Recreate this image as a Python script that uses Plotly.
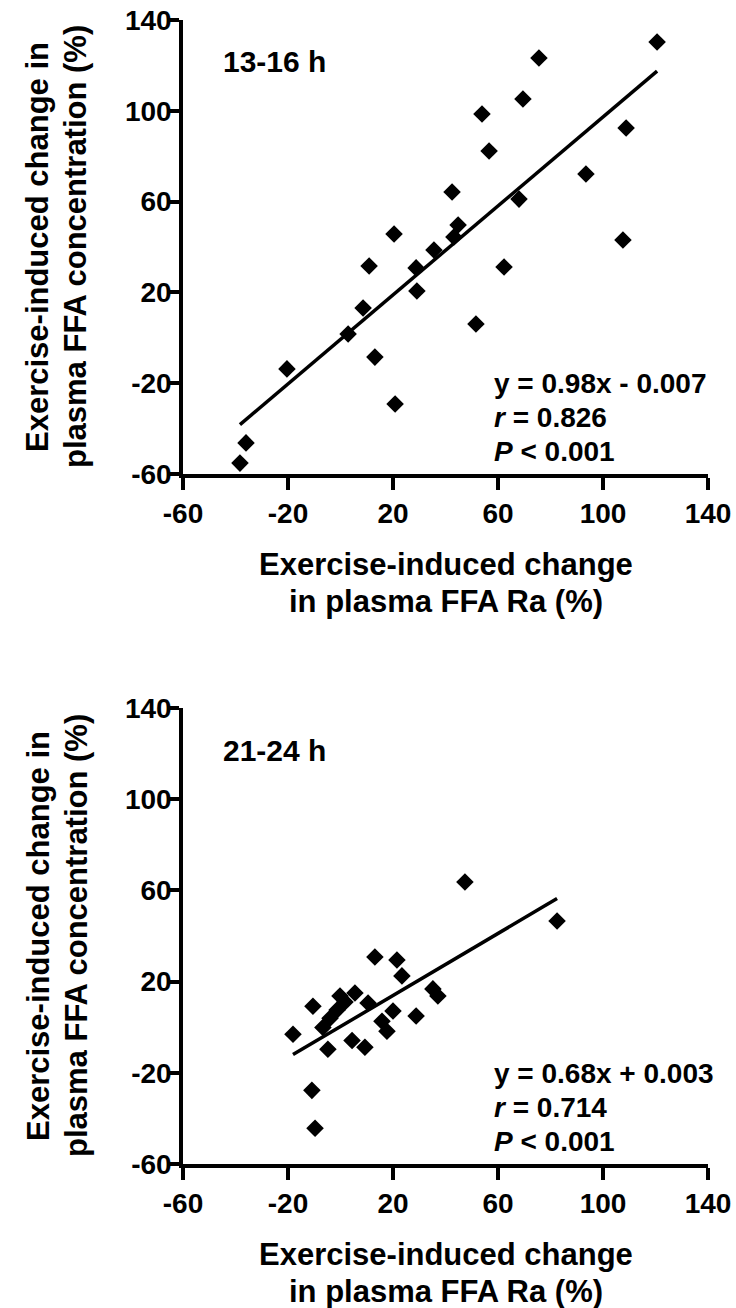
import plotly.graph_objects as go

# ---------------- data ----------------
top_x = [-38.3, -36.0, -20.4, 2.9, 13.1, 8.6, 10.9, 20.4, 20.8, 28.8, 29.1, 35.6, 42.5,
         44.8, 43.2, 51.6, 53.9, 56.6, 62.3, 68.0, 69.5, 75.6, 93.5, 107.6, 108.8, 120.6]
top_y = [-55.2, -46.3, -13.7, 1.7, -8.5, 13.1, 31.6, 45.7, -29.2, 30.8, 20.6, 38.7, 64.2,
         49.7, 44.4, 6.1, 98.6, 82.3, 31.2, 61.1, 105.2, 123.3, 72.2, 43.1, 92.4, 130.3]
top_slope, top_intercept = 0.98, -0.7

bot_x = [47.4, 82.5, 13.1, 21.5, 23.4, 35.2, 37.1, -10.5, -0.2, 1.7, -1.3, 5.5, 10.5,
         20.0, 28.8, 15.8, 17.7, -4.0, -6.7, -18.1, -4.8, 4.4, 9.3, -10.9, -9.7]
bot_y = [63.7, 46.6, 30.8, 29.5, 22.5, 16.8, 13.7, 9.2, 13.7, 11.1, 7.5, 15.0, 10.6,
         7.1, 4.9, 2.6, -1.8, 3.9, -0.1, -3.1, -9.7, -5.8, -8.8, -27.7, -44.3]
bot_slope, bot_intercept = 0.68, 0.3

tick_vals = [-60, -20, 20, 60, 100, 140]
tick_text = ["-60", "-20", "20", "60", "100", "140"]
panel_labels = ["13-16 h", "21-24 h"]
stats_top = ["y = 0.98x - 0.007", "<i>r</i> = 0.826", "<i>P</i> < 0.001"]
stats_bot = ["y = 0.68x + 0.003", "<i>r</i> = 0.714", "<i>P</i> < 0.001"]
x_title = ["Exercise-induced change", "in plasma FFA Ra (%)"]
y_title = ["Exercise-induced change in", "plasma FFA concentration (%)"]

# ---------------- figure ----------------
W, H = 736, 1308
FONT = "Liberation Sans, Arial, sans-serif"
fig = go.Figure()


def fit_line(xs, slope, intercept):
    x0, x1 = min(xs), max(xs)
    return [x0, x1], [slope * x0 + intercept, slope * x1 + intercept]


panels = [
    (top_x, top_y, top_slope, top_intercept, "x", "y"),
    (bot_x, bot_y, bot_slope, bot_intercept, "x2", "y2"),
]
for xs, ys, s, b, xa, ya in panels:
    lx, ly = fit_line(xs, s, b)
    fig.add_trace(go.Scatter(x=lx, y=ly, mode="lines", xaxis=xa, yaxis=ya,
                             line=dict(color="black", width=3.5), showlegend=False))
    fig.add_trace(go.Scatter(x=xs, y=ys, mode="markers", xaxis=xa, yaxis=ya,
                             marker=dict(symbol="diamond", size=13.5, color="black"),
                             showlegend=False))

xdom = [183 / W, 708 / W]
top_dom = [1 - 474 / H, 1 - 20 / H]
bot_dom = [1 - 1164 / H, 1 - 708 / H]

axis_common = dict(range=[-60, 140], tickmode="array", tickvals=tick_vals,
                   ticktext=["<b>%s</b>" % t for t in tick_text],
                   showline=True, linecolor="black", automargin=False,
                   linewidth=3.5, ticks="outside", ticklen=12, tickwidth=3.5, tickcolor="black",
                   showgrid=False, zeroline=False,
                   tickfont=dict(family=FONT, size=28, color="black"))

fig.update_layout(
    width=W, height=H, margin=dict(l=0, r=0, t=0, b=0, autoexpand=False),
    paper_bgcolor="white", plot_bgcolor="white",
    xaxis=dict(domain=xdom, anchor="y", **axis_common),
    yaxis=dict(domain=top_dom, anchor="x", ticklabelstandoff=-10, **axis_common),
    xaxis2=dict(domain=xdom, anchor="y2", **axis_common),
    yaxis2=dict(domain=bot_dom, anchor="x2", ticklabelstandoff=-10, **axis_common),
)

ann = []


def txtfont(size):
    return dict(family=FONT, size=size, color="black")


for i, (xr, yr, dom_px) in enumerate([("x", "y", (20, 474)), ("x2", "y2", (708, 1164))]):
    top_px, bot_px = dom_px
    # panel label
    ann.append(dict(x=-45.5, y=121.5, xref=xr, yref=yr, text="<b>%s</b>" % panel_labels[i],
                    showarrow=False, xanchor="left", yanchor="middle", font=txtfont(30)))
    # stats lines
    stats = stats_top if i == 0 else stats_bot
    for j, off in enumerate([81, 47, 13]):
        base = bot_px - off
        center = base - 0.3465 * 28
        ann.append(dict(x=57.7, y=1 - center / H, xref=xr, yref="paper",
                        text="<b>%s</b>" % stats[j],
                        showarrow=False, xanchor="left", yanchor="middle", font=txtfont(28)))
    # x-axis title
    for j, off in enumerate([101, 138]):
        base = bot_px + off
        center = base - 0.3465 * 31
        ann.append(dict(x=0.5 * (xdom[0] + xdom[1]), y=1 - center / H, xref="paper", yref="paper",
                        text="<b>%s</b>" % x_title[j], showarrow=False, xanchor="center",
                        yanchor="middle", font=txtfont(31)))
    # y-axis title (rotated)
    mid = 1 - 0.5 * (top_px + bot_px) / H
    for j, cx in enumerate([38, 76]):
        ann.append(dict(x=cx / W, y=mid, xref="paper", yref="paper",
                        text="<b>%s</b>" % y_title[j],
                        textangle=-90, showarrow=False, xanchor="center", yanchor="middle",
                        font=txtfont(31)))

fig.update_layout(annotations=ann)
fig.write_html("out.html")
